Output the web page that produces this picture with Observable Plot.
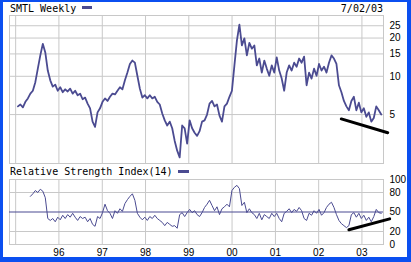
<!DOCTYPE html>
<html><head><meta charset="utf-8">
<script src="https://cdn.jsdelivr.net/npm/d3@7"></script>
<script src="https://cdn.jsdelivr.net/npm/@observablehq/plot@0.6"></script>
<style>
body{margin:0;background:#fff;}
#wrap{position:relative;width:411px;height:262px;overflow:hidden;background:#fff;}
#border{position:absolute;left:0;top:0;width:411px;height:262px;box-sizing:border-box;border-style:solid;border-color:#0b4ff0;border-width:2px 4px 5px 3px;z-index:5;pointer-events:none;}
.title{position:absolute;font-family:"DejaVu Sans Mono",monospace;font-size:10px;line-height:10px;color:#000;white-space:nowrap}
.sw{position:absolute;height:3px;background:#4b4b91}
#c1,#c2{position:absolute;left:0}
#c1{top:0}
#c2{top:165px}
</style></head>
<body><div id="wrap">
<div class="title" style="left:10px;top:4px">SMTL Weekly</div>
<div class="sw" style="left:82px;top:6px;width:10px"></div>
<div class="title" style="right:28px;top:4px">7/02/03</div>
<div class="title" style="left:10px;top:167px">Relative Strength Index(14)</div>
<div class="sw" style="left:178px;top:170px;width:11px"></div>
<div id="c1"></div><div id="c2"></div>
<div id="border"></div>
</div>
<script>
// weekly series sampled every 3 weeks starting 1995-01-20
const seriesStart = "1995-01-20";
const stepDays = 21;
const price = [
5.8, 6.0, 5.7, 6.3, 6.7, 7.3, 7.7, 9.0, 11.5, 14.6,
18.0, 15.4, 11.1, 9.3, 8.3, 8.6, 7.7, 8.2, 7.5, 7.9,
7.6, 8.0, 7.3, 7.7, 7.1, 7.3, 6.6, 6.8, 6.1, 5.6,
4.4, 4.0, 5.2, 5.6, 6.3, 6.7, 6.4, 6.9, 7.3, 7.2,
7.7, 8.2, 7.9, 9.3, 10.7, 12.5, 13.3, 12.8, 10.1, 8.0,
6.8, 7.1, 6.7, 7.1, 6.7, 6.9, 6.3, 6.0, 5.1, 4.5,
4.1, 4.4, 3.9, 3.1, 2.6, 2.3, 4.1, 3.9, 2.95, 4.5,
3.9, 3.6, 3.4, 3.7, 4.4, 4.5, 5.0, 6.1, 6.4, 5.8,
6.0, 4.9, 4.4, 5.8, 6.1, 6.9, 7.7, 12.2, 19.1, 25.5,
17.5, 19.9, 14.6, 18.3, 16.5, 17.5, 12.2, 13.8, 10.7, 13.3,
11.5, 10.1, 12.2, 10.7, 14.1, 11.1, 9.6, 7.7, 10.7, 12.2,
11.1, 12.8, 11.9, 13.8, 12.8, 14.3, 8.5, 10.7, 9.6, 11.5,
10.1, 12.5, 11.1, 11.9, 10.7, 12.8, 14.6, 13.8, 12.5, 8.5,
7.5, 6.4, 5.8, 5.4, 6.4, 6.9, 5.4, 6.2, 5.2, 5.6,
4.8, 5.2, 4.4, 4.7, 5.8, 5.4, 5.0
];
const rsiStartIndex = 5;
const rsi = [
74, 78, 83, 80, 85, 82, 72, 40, 37, 40,
35, 42, 38, 45, 40, 46, 42, 48, 42, 37,
43, 40, 42, 35, 40, 31, 28, 43, 40, 49,
62, 52, 48, 40, 52, 48, 55, 51, 63, 69,
74, 78, 68, 48, 42, 38, 42, 37, 43, 40,
45, 40, 37, 34, 29, 34, 31, 28, 29, 25,
46, 49, 43, 49, 54, 49, 52, 46, 43, 49,
57, 62, 68, 60, 52, 58, 46, 55, 58, 62,
58, 83, 88, 91, 86, 60, 65, 49, 55, 49,
46, 40, 48, 38, 46, 43, 40, 48, 43, 48,
40, 35, 48, 51, 55, 49, 54, 51, 57, 52,
40, 37, 48, 45, 52, 48, 54, 45, 49, 57,
62, 65, 57, 46, 37, 32, 29, 26, 29, 46,
49, 42, 48, 40, 45, 37, 42, 35, 43, 54,
49, 48
];
const priceTicks = [5, 10, 15, 20, 25];
const rsiTicks = [0, 20, 50, 80, 100];
const rsiGrid = [20, 80];
const rsiMid = [50];
const gridYears = [1995, 1996, 1997, 1998, 1999, 2000, 2001, 2002, 2003];
const labelYears = [1996, 1997, 1998, 1999, 2000, 2001, 2002, 2003];
const xStart = "1994-11-10", xEnd = "2003-07-02";
const trendPriceDates = ["2002-07-11", "2003-08-07"];
const trendPriceValues = [4.62, 3.6];
const trendRsiDates = ["2002-09-13", "2003-08-23"];
const trendRsiValues = [22.6, 39.5];

const lineColor = "#4b4b91", gridColor = "#c8c8c8";
const t0 = new Date(seriesStart + "T00:00:00Z").getTime();
const dateAt = i => new Date(t0 + i * stepDays * 864e5);
const priceData = price.map((v, i) => ({date: dateAt(i), value: v}));
const rsiData = rsi.map((v, i) => ({date: dateAt(i + rsiStartIndex), value: v}));
const yr = y => new Date(Date.UTC(y, 0, 1));
const xDomain = [new Date(xStart + "T00:00:00Z"), new Date(xEnd + "T00:00:00Z")];
const trendTop = trendPriceDates.map((d, i) => ({date: new Date(d + "T00:00:00Z"), value: trendPriceValues[i]}));
const trendLow = trendRsiDates.map((d, i) => ({date: new Date(d + "T00:00:00Z"), value: trendRsiValues[i]}));
const style = {fontFamily: "'Liberation Sans', Arial, sans-serif", fontSize: "10px", background: "transparent", color: "#000", overflow: "visible"};

const topChart = Plot.plot({
  width: 411, height: 164, marginLeft: 9, marginRight: 28, marginTop: 15, marginBottom: 1,
  style,
  x: {type: "utc", domain: xDomain, axis: null},
  y: {type: "log", domain: [2.06, 30.1], axis: null},
  marks: [
    Plot.ruleX(gridYears.map(yr), {stroke: gridColor}),
    Plot.ruleY(priceTicks, {stroke: gridColor}),
    Plot.frame({stroke: gridColor}),
    Plot.axisY({anchor: "right", ticks: priceTicks, tickSize: 0, tickPadding: 6, tickFormat: d => String(d), label: null}),
    Plot.line(priceData, {x: "date", y: "value", stroke: lineColor, strokeWidth: 1.8}),
    Plot.line(trendTop, {x: "date", y: "value", stroke: "#000", strokeWidth: 3, clip: false})
  ]
});
document.getElementById("c1").append(topChart);

const rsiChart = Plot.plot({
  width: 411, height: 97, marginLeft: 9, marginRight: 28, marginTop: 14, marginBottom: 18,
  style,
  x: {type: "utc", domain: xDomain, axis: null},
  y: {domain: [0, 100], axis: null},
  marks: [
    Plot.ruleX(gridYears.map(yr), {stroke: gridColor}),
    Plot.ruleY(rsiGrid, {stroke: gridColor}),
    Plot.frame({stroke: gridColor}),
    Plot.ruleY(rsiMid, {stroke: lineColor, strokeWidth: 1.2}),
    Plot.axisY({anchor: "right", ticks: rsiTicks, tickSize: 0, tickPadding: 6, label: null}),
    Plot.axisX({anchor: "bottom", ticks: labelYears.map(yr), tickSize: 0, tickPadding: 4, tickFormat: d3.utcFormat("%y"), label: null}),
    Plot.line(rsiData, {x: "date", y: "value", stroke: lineColor, strokeWidth: 1}),
    Plot.line(trendLow, {x: "date", y: "value", stroke: "#000", strokeWidth: 3, clip: false})
  ]
});
document.getElementById("c2").append(rsiChart);
</script>
</body></html>
